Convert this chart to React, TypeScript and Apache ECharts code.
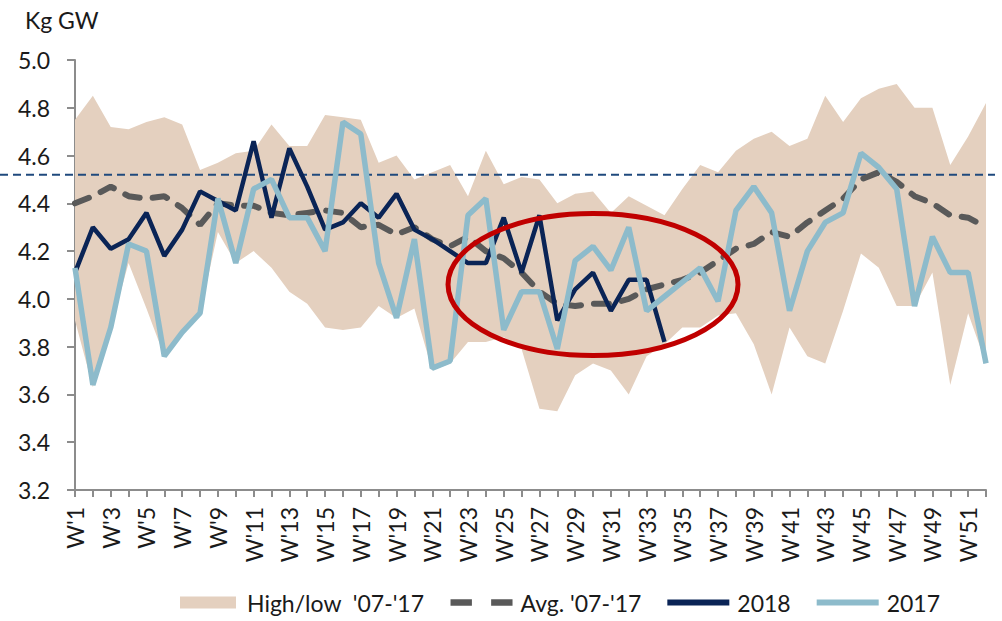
import React, { useEffect, useRef } from "react";
import * as echarts from "echarts";

const weeks: string[] = Array.from({ length: 52 }, (_, i) => `W'${i + 1}`);

const high: number[] = [
  4.75, 4.85, 4.72, 4.71, 4.74, 4.76, 4.73, 4.54, 4.57, 4.61,
  4.62, 4.73, 4.64, 4.64, 4.77, 4.76, 4.75, 4.57, 4.60, 4.50,
  4.53, 4.56, 4.43, 4.62, 4.48, 4.51, 4.50, 4.40, 4.44, 4.45,
  4.36, 4.43, 4.39, 4.35, 4.46, 4.56, 4.53, 4.62, 4.67, 4.70,
  4.64, 4.67, 4.85, 4.74, 4.84, 4.88, 4.90, 4.80, 4.80, 4.56,
  4.68, 4.82,
];

const low: number[] = [
  3.91, 3.63, 3.88, 4.15, 3.96, 3.76, 3.85, 3.94, 4.28, 4.15,
  4.20, 4.13, 4.03, 3.98, 3.88, 3.87, 3.88, 3.97, 3.92, 3.96,
  3.70, 3.73, 3.82, 3.82, 3.84, 3.79, 3.54, 3.53, 3.68, 3.73,
  3.70, 3.60, 3.76, 3.81, 3.88, 3.88, 3.93, 3.94, 3.81, 3.60,
  3.88, 3.76, 3.73, 3.95, 4.19, 4.13, 3.97, 3.97, 4.11, 3.64,
  3.94, 3.73,
];

const avg: number[] = [
  4.40, 4.43, 4.47, 4.43, 4.42, 4.43, 4.38, 4.31, 4.40, 4.39,
  4.39, 4.36, 4.35, 4.36, 4.37, 4.36, 4.30, 4.31, 4.27, 4.30,
  4.25, 4.22, 4.26, 4.20, 4.17, 4.11, 4.03, 3.98, 3.97, 3.98,
  3.98, 4.00, 4.04, 4.06, 4.08, 4.11, 4.16, 4.21, 4.23, 4.28,
  4.26, 4.32, 4.37, 4.42, 4.50, 4.53, 4.49, 4.43, 4.40, 4.35,
  4.34, 4.30,
];

const y2018: (number | null)[] = [
  4.11, 4.30, 4.21, 4.25, 4.36, 4.18, 4.29, 4.45, 4.41, 4.37,
  4.66, 4.34, 4.63, 4.47, 4.29, 4.32, 4.40, 4.34, 4.44, 4.29,
  4.25, 4.20, 4.15, 4.15, 4.34, 4.11, 4.35, 3.91, 4.04, 4.11,
  3.95, 4.08, 4.08, 3.82, null, null, null, null, null, null,
  null, null, null, null, null, null, null, null, null, null,
  null, null,
];

const y2017: number[] = [
  4.13, 3.64, 3.88, 4.23, 4.20, 3.76, 3.86, 3.94, 4.42, 4.15,
  4.46, 4.50, 4.34, 4.34, 4.20, 4.74, 4.69, 4.15, 3.92, 4.25,
  3.71, 3.74, 4.35, 4.42, 3.87, 4.03, 4.03, 3.79, 4.16, 4.22,
  4.12, 4.30, 3.95, 4.01, 4.07, 4.13, 3.99, 4.37, 4.47, 4.36,
  3.95, 4.20, 4.32, 4.36, 4.61, 4.55, 4.46, 3.97, 4.26, 4.11,
  4.11, 3.73,
];

const REF_LEVEL = 4.52;
const ELLIPSE_CENTER: [number, number] = [29, 4.06];

const BAND_NAME = "High/low  '07-'17";
const AVG_NAME = "Avg. '07-'17";
const FONT = "Lato, 'Open Sans', sans-serif";
const TAN = "#E4D0BF";
const C_AVG = "#595959";
const C_2018 = "#0A2456";
const C_2017 = "#8DBBCB";
const FS = 23;

export default function App() {
  const ref = useRef<HTMLDivElement>(null);

  useEffect(() => {
    if (!ref.current) return;
    const chart = echarts.init(ref.current, null, { renderer: "svg" });
    const bandDiff = high.map((h, i) => +(h - low[i]).toFixed(3));

    chart.setOption({
      animation: false,
      textStyle: { fontFamily: FONT },
      title: {
        text: "Kg GW",
        left: 20,
        top: 3,
        textStyle: { fontFamily: FONT, fontSize: FS, fontWeight: "normal", color: "#1a1a1a" },
      },
      grid: { left: 75, right: 16, top: 60, bottom: 131, containLabel: false },
      xAxis: {
        type: "category",
        data: weeks,
        boundaryGap: false,
        axisLine: { lineStyle: { color: "#8C8C8C", width: 2 } },
        axisTick: { interval: 0, length: 7, lineStyle: { color: "#8C8C8C", width: 2 } },
        axisLabel: {
          interval: 1,
          rotate: 90,
          margin: 17,
          fontSize: FS,
          color: "#1a1a1a",
          fontFamily: FONT,
        },
        splitLine: { show: false },
      },
      yAxis: {
        type: "value",
        min: 3.2,
        max: 5.0,
        interval: 0.2,
        axisLine: { show: true, lineStyle: { color: "#8C8C8C", width: 2 } },
        axisTick: { show: true, length: 8, lineStyle: { color: "#8C8C8C", width: 2 } },
        axisLabel: {
          margin: 25,
          fontSize: FS,
          color: "#1a1a1a",
          fontFamily: FONT,
          formatter: (v: number) => v.toFixed(1),
        },
        splitLine: { show: false },
      },
      legend: {
        left: 180,
        top: 591,
        padding: 0,
        itemWidth: 62,
        itemHeight: 12,
        itemGap: 26,
        textStyle: { fontSize: FS, color: "#1a1a1a", fontFamily: FONT, padding: [0, 0, 0, 3] },
        data: [
          { name: BAND_NAME, icon: "path://M0 0H56V12H0Z", itemStyle: { color: TAN } },
          { name: AVG_NAME, icon: "path://M0 0H20V6H0Z M38 0H58V6H38Z", itemStyle: { color: C_AVG } },
          { name: "2018", icon: "path://M0 0H64V6H0Z", itemStyle: { color: C_2018 } },
          { name: "2017", icon: "path://M0 0H64V6H0Z", itemStyle: { color: C_2017 } },
        ],
      },
      series: [
        {
          name: "low",
          type: "line",
          data: low,
          stack: "band",
          symbol: "none",
          lineStyle: { opacity: 0 },
          z: 1,
          silent: true,
        },
        {
          name: BAND_NAME,
          type: "line",
          data: bandDiff,
          stack: "band",
          symbol: "none",
          lineStyle: { opacity: 0 },
          itemStyle: { color: TAN },
          areaStyle: { color: TAN, opacity: 1 },
          z: 1,
          silent: true,
        },
        {
          name: AVG_NAME,
          type: "line",
          data: avg,
          symbol: "none",
          itemStyle: { color: C_AVG },
          lineStyle: { color: C_AVG, width: 6, type: [15, 13], cap: "round" },
          z: 3,
        },
        {
          name: "2018",
          type: "line",
          data: y2018,
          symbol: "none",
          itemStyle: { color: C_2018 },
          lineStyle: { color: C_2018, width: 4.5 },
          z: 4,
        },
        {
          name: "2017",
          type: "line",
          data: y2017,
          symbol: "none",
          itemStyle: { color: C_2017 },
          lineStyle: { color: C_2017, width: 5.5 },
          z: 5,
        },
      ],
    });

    const refY = chart.convertToPixel({ yAxisIndex: 0 }, REF_LEVEL) as number;
    const c = chart.convertToPixel({ xAxisIndex: 0, yAxisIndex: 0 }, ELLIPSE_CENTER) as number[];

    chart.setOption({
      graphic: [
        {
          type: "line",
          z: 2,
          shape: { x1: 0, y1: refY, x2: 995, y2: refY },
          style: { stroke: "#1F497D", lineWidth: 2, lineDash: [8, 5] },
        },
        {
          type: "ellipse",
          z: 10,
          shape: { cx: c[0], cy: c[1], rx: 145, ry: 71 },
          style: { fill: "none", stroke: "#C00000", lineWidth: 5 },
        },
      ],
    });

    return () => chart.dispose();
  }, []);

  return <div ref={ref} style={{ width: 1002, height: 621, position: "absolute", left: 0, top: 0 }} />;
}
